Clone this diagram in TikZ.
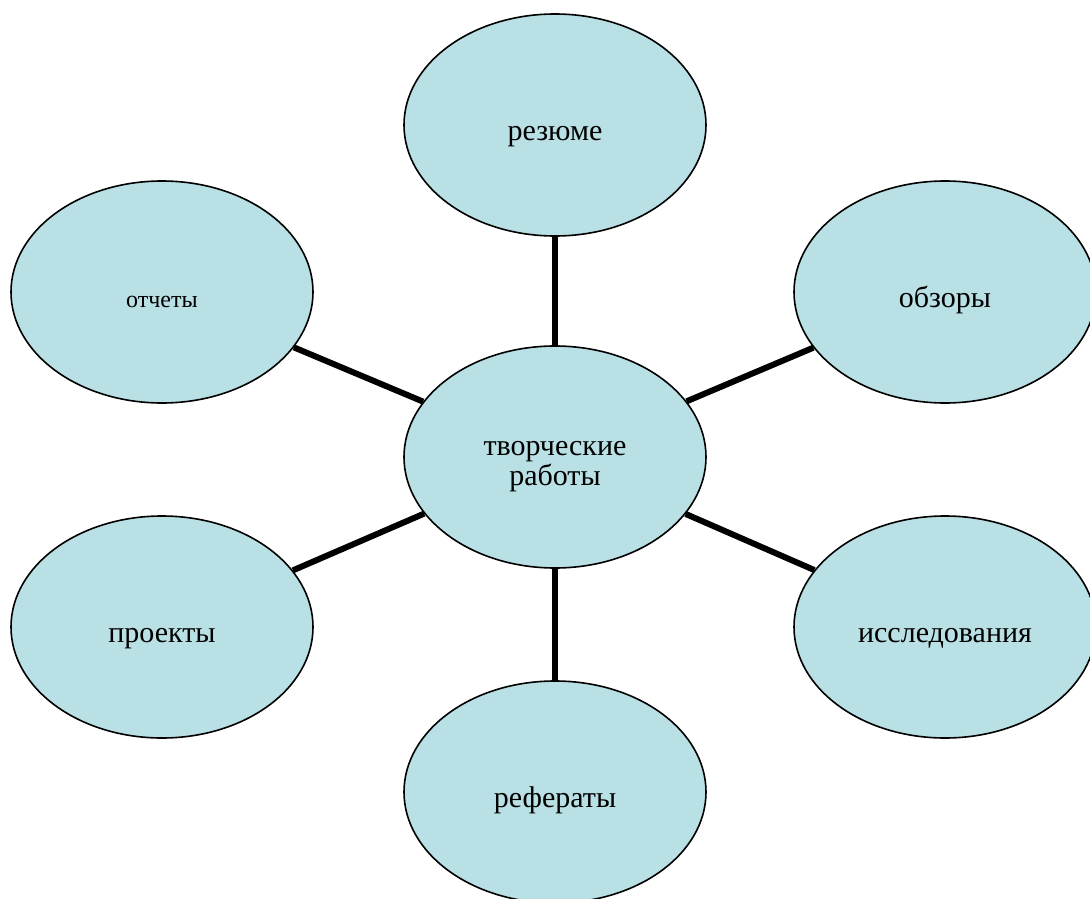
\documentclass[tikz,border=0pt]{standalone}
\usepackage{fontspec}
\setmainfont{Liberation Serif}
\usepackage{tikz}
\usetikzlibrary{positioning, shapes.geometric}

\definecolor{paleblue}{RGB}{185,224,228}

\begin{document}
\begin{tikzpicture}[x=1pt, y=-1pt, on grid,
							every node/.style={ellipse, draw, fill=paleblue, line width=1.6pt,
								minimum width=302pt, minimum height=222pt, inner sep=0pt, align=center,
								text height=30pt, text depth=0pt, font=\fontsize{30}{30}\selectfont},
							link/.style={line width=6pt}]

			\useasboundingbox (0,0) rectangle (1090,899);

			\node (TR) at (555,457) [text height=56pt] {творческие\\работы};

			\node (Rez) [above=332pt of TR] {резюме};

			\node (Ref) [below=335pt of TR] {рефераты};

			\node (Otch) [above left=165pt and 393pt of TR, font=\fontsize{24}{26}\selectfont] {отчеты};

			\node (Obz) [above right=165pt and 390pt of TR] {обзоры};

			\node (Pro) [below left=170pt and 393pt of TR] {проекты};

			\node (Iss) [below right=170pt and 390pt of TR] {исследования};

			\draw[link] (TR) -- (Rez);
			\draw[link] (TR) -- (Ref);
			\draw[link] (TR) -- (Otch);
			\draw[link] (TR) -- (Obz);
			\draw[link] (TR) -- (Pro);
			\draw[link] (TR) -- (Iss);

		\end{tikzpicture}
\end{document}
